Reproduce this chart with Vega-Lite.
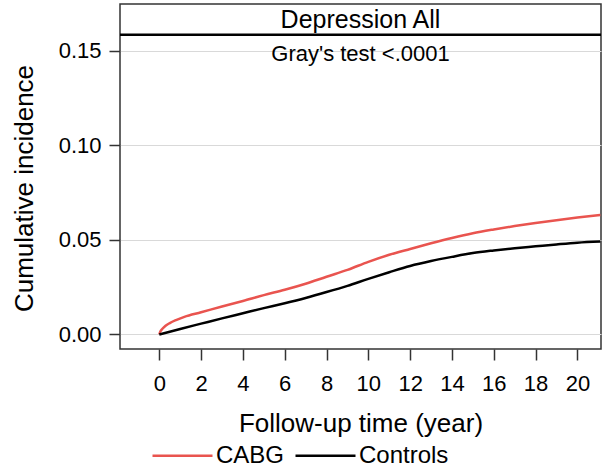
{
  "$schema": "https://vega.github.io/schema/vega-lite/v6.json",
  "width": 481,
  "height": 345,
  "autosize": {"type": "none"},
  "padding": {"left": 120, "top": 4, "right": 5, "bottom": 119},
  "background": "white",
  "config": {
    "font": "Liberation Sans",
    "view": {"stroke": "#333333", "strokeWidth": 1.5},
    "axis": {"labelColor": "black", "titleColor": "black", "tickColor": "#333333", "titleFontWeight": "normal"}
  },
  "datasets": {
    "curves": [
      {"time": 0, "cif": 0, "group": "CABG"},
      {"time": 0.05, "cif": 0.0015, "group": "CABG"},
      {"time": 0.15, "cif": 0.003, "group": "CABG"},
      {"time": 0.3, "cif": 0.0046, "group": "CABG"},
      {"time": 0.5, "cif": 0.006, "group": "CABG"},
      {"time": 0.8, "cif": 0.0076, "group": "CABG"},
      {"time": 1.2, "cif": 0.0093, "group": "CABG"},
      {"time": 2, "cif": 0.0117, "group": "CABG"},
      {"time": 3, "cif": 0.0148, "group": "CABG"},
      {"time": 4, "cif": 0.0177, "group": "CABG"},
      {"time": 5, "cif": 0.0208, "group": "CABG"},
      {"time": 6, "cif": 0.0236, "group": "CABG"},
      {"time": 7, "cif": 0.0268, "group": "CABG"},
      {"time": 8, "cif": 0.0305, "group": "CABG"},
      {"time": 9, "cif": 0.0341, "group": "CABG"},
      {"time": 10, "cif": 0.0384, "group": "CABG"},
      {"time": 11, "cif": 0.0421, "group": "CABG"},
      {"time": 12, "cif": 0.0452, "group": "CABG"},
      {"time": 13, "cif": 0.0482, "group": "CABG"},
      {"time": 14, "cif": 0.051, "group": "CABG"},
      {"time": 15, "cif": 0.0535, "group": "CABG"},
      {"time": 16, "cif": 0.0555, "group": "CABG"},
      {"time": 17, "cif": 0.0573, "group": "CABG"},
      {"time": 18, "cif": 0.0589, "group": "CABG"},
      {"time": 19, "cif": 0.0604, "group": "CABG"},
      {"time": 20, "cif": 0.0618, "group": "CABG"},
      {"time": 21.1, "cif": 0.0632, "group": "CABG"},
      {"time": 0, "cif": 0, "group": "Controls"},
      {"time": 1, "cif": 0.0029, "group": "Controls"},
      {"time": 2, "cif": 0.0057, "group": "Controls"},
      {"time": 3, "cif": 0.0085, "group": "Controls"},
      {"time": 4, "cif": 0.0112, "group": "Controls"},
      {"time": 5, "cif": 0.0139, "group": "Controls"},
      {"time": 6, "cif": 0.0165, "group": "Controls"},
      {"time": 7, "cif": 0.0193, "group": "Controls"},
      {"time": 8, "cif": 0.0224, "group": "Controls"},
      {"time": 9, "cif": 0.0257, "group": "Controls"},
      {"time": 10, "cif": 0.0294, "group": "Controls"},
      {"time": 11, "cif": 0.0329, "group": "Controls"},
      {"time": 12, "cif": 0.0362, "group": "Controls"},
      {"time": 13, "cif": 0.0388, "group": "Controls"},
      {"time": 14, "cif": 0.041, "group": "Controls"},
      {"time": 15, "cif": 0.043, "group": "Controls"},
      {"time": 16, "cif": 0.0444, "group": "Controls"},
      {"time": 17, "cif": 0.0456, "group": "Controls"},
      {"time": 18, "cif": 0.0466, "group": "Controls"},
      {"time": 19, "cif": 0.0476, "group": "Controls"},
      {"time": 20, "cif": 0.0485, "group": "Controls"},
      {"time": 21.1, "cif": 0.0491, "group": "Controls"}
    ],
    "labels": [
      {"time": 9.625, "cif": 0.1664, "label": "Depression All", "kind": "header"},
      {"time": 9.625, "cif": 0.1484, "label": "Gray's test <.0001", "kind": "test"}
    ],
    "header": [
      {"cif": 0.1585}
    ]
  },
  "layer": [
    {
      "data": {"name": "curves"},
      "mark": {"type": "line", "strokeWidth": 2.5, "interpolate": "monotone"},
      "encoding": {
        "x": {
          "field": "time", "type": "quantitative",
          "scale": {"domain": [-1.88, 21.13], "nice": false, "zero": false},
          "axis": {
            "title": "Follow-up time (year)", "values": [0, 2, 4, 6, 8, 10, 12, 14, 16, 18, 20],
            "grid": false, "domain": false, "tickSize": 11, "tickWidth": 1.5,
            "labelFontSize": 22, "labelPadding": 13, "labelFlush": false,
            "titleFontSize": 26, "titleBaseline": "alphabetic", "titleY": 82
          }
        },
        "y": {
          "field": "cif", "type": "quantitative",
          "scale": {"domain": [-0.0077, 0.1747], "nice": false, "zero": false},
          "axis": {
            "title": "Cumulative incidence", "values": [0, 0.05, 0.1, 0.15], "format": ".2f",
            "grid": true, "gridColor": "#d9d9d9", "gridWidth": 1,
            "domain": false, "tickSize": 11, "tickWidth": 1.5,
            "labelFontSize": 22, "labelPadding": 8, "labelFlush": false,
            "titleFontSize": 26, "titleX": -83, "titleY": 184
          }
        },
        "color": {
          "field": "group", "type": "nominal",
          "scale": {"domain": ["CABG", "Controls"], "range": ["#E9544F", "#000000"]},
          "legend": {
            "title": null, "orient": "none", "legendX": 31, "legendY": 420,
            "direction": "horizontal", "symbolType": "stroke", "symbolSize": 3600,
            "symbolStrokeWidth": 2.5, "labelFontSize": 24, "labelColor": "black",
            "labelOffset": 2, "columnPadding": 5, "padding": 0
          }
        }
      }
    },
    {
      "data": {"name": "header"},
      "mark": {"type": "rule", "color": "black", "strokeWidth": 2.5},
      "encoding": {"y": {"field": "cif", "type": "quantitative"}}
    },
    {
      "data": {"name": "labels"},
      "mark": {"type": "text", "baseline": "middle", "align": "center", "color": "black"},
      "encoding": {
        "x": {"field": "time", "type": "quantitative"},
        "y": {"field": "cif", "type": "quantitative"},
        "text": {"field": "label"},
        "size": {"field": "kind", "type": "nominal", "scale": {"domain": ["header", "test"], "range": [25, 22]}, "legend": null}
      }
    }
  ]
}
